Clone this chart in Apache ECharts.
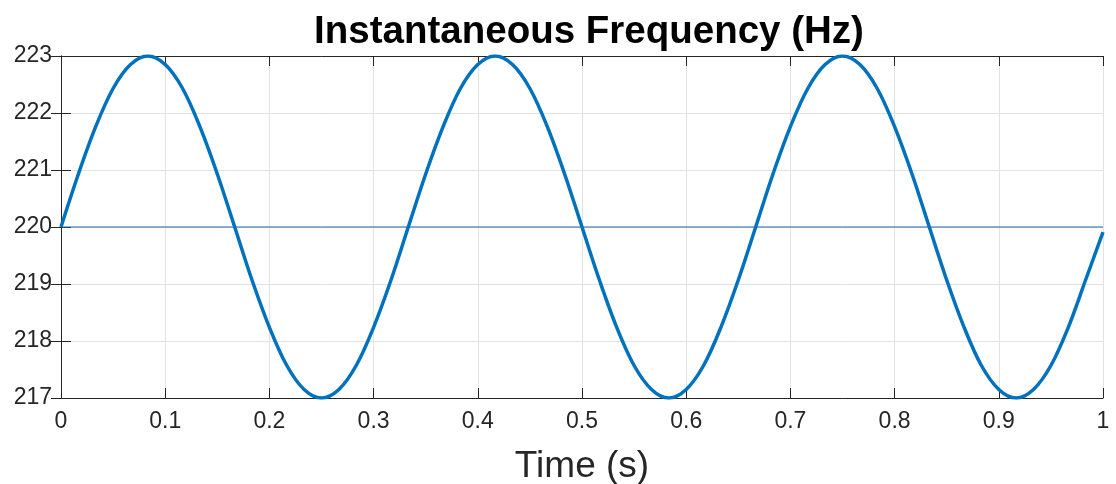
<!DOCTYPE html>
<html style="height: 100%">
<head>
    <meta charset="utf-8">
    <title>Instantaneous Frequency</title>
    <script type="text/javascript" src="https://cdn.jsdelivr.net/npm/echarts@6/dist/echarts.min.js"></script>
</head>
<body style="height: 100%; margin: 0; background: #fff">
    <div id="container" style="width: 1116px; height: 484px"></div>
    <script type="text/javascript">
        // time samples (s)
        var times = [
            0, 0.0167, 0.0333, 0.05, 0.0667, 0.0833, 0.1, 0.1167, 0.1333, 0.15,
            0.1667, 0.1833, 0.2, 0.2167, 0.2333, 0.25, 0.2667, 0.2833, 0.3, 0.3167,
            0.3333, 0.35, 0.3667, 0.3833, 0.4, 0.4167, 0.4333, 0.45, 0.4667, 0.4833,
            0.5, 0.5167, 0.5333, 0.55, 0.5667, 0.5833, 0.6, 0.6167, 0.6333, 0.65,
            0.6667, 0.6833, 0.7, 0.7167, 0.7333, 0.75, 0.7667, 0.7833, 0.8, 0.8167,
            0.8333, 0.85, 0.8667, 0.8833, 0.9, 0.9167, 0.9333, 0.95, 0.9667, 0.9833,
            1
        ];
        // instantaneous frequency (Hz)
        var freq = [
            220, 220.93, 221.76, 222.43, 222.85, 223, 222.85, 222.43, 221.76, 220.93,
            220, 219.07, 218.24, 217.57, 217.15, 217, 217.15, 217.57, 218.24, 219.07,
            220, 220.93, 221.76, 222.43, 222.85, 223, 222.85, 222.43, 221.76, 220.93,
            220, 219.07, 218.24, 217.57, 217.15, 217, 217.15, 217.57, 218.24, 219.07,
            220, 220.93, 221.76, 222.43, 222.85, 223, 222.85, 222.43, 221.76, 220.93,
            220, 219.07, 218.24, 217.57, 217.15, 217, 217.15, 217.57, 218.24, 219.07,
            219.91
        ];
        // centre frequency reference line
        var refTimes = [0, 1];
        var refFreq = [220, 220];

        var xTicks = ['0', '0.1', '0.2', '0.3', '0.4', '0.5', '0.6', '0.7', '0.8', '0.9', '1'];

        function pairs(xs, ys) {
            var out = [];
            for (var i = 0; i < xs.length; i++) out.push([xs[i], ys[i]]);
            return out;
        }

        var myChart = echarts.init(document.getElementById('container'));
        var axisColor = '#262626';
        var font = 'Liberation Sans, Arial, sans-serif';

        var option = {
            animation: false,
            title: {
                text: 'Instantaneous Frequency (Hz)',
                left: 584,
                textAlign: 'center',
                top: 8,
                textStyle: { fontFamily: font, fontSize: 38.5, fontWeight: 'bold', color: '#000' }
            },
            grid: { left: 61, right: 13, top: 56, bottom: 86, outerBoundsMode: 'none', containLabel: false },
            xAxis: [{
                type: 'value',
                min: 0, max: 1, interval: 0.1,
                name: 'Time (s)',
                nameLocation: 'middle',
                nameGap: 50,
                nameTextStyle: { fontFamily: font, fontSize: 37, color: axisColor },
                axisLine: { lineStyle: { color: axisColor, width: 1 } },
                axisTick: { inside: true, length: 10, lineStyle: { color: axisColor } },
                axisLabel: {
                    fontFamily: font, fontSize: 23, color: axisColor, margin: 12,
                    formatter: function (v) { return xTicks[Math.round(v * 10)]; }
                },
                splitLine: { show: true, lineStyle: { color: '#e2e2e2', width: 1 } }
            }, {
                type: 'value', position: 'top',
                min: 0, max: 1, interval: 0.1,
                axisLine: { show: true, lineStyle: { color: axisColor, width: 1 } },
                axisTick: { inside: true, length: 10, lineStyle: { color: axisColor } },
                axisLabel: { show: false },
                splitLine: { show: false }
            }],
            yAxis: [{
                type: 'value',
                min: 217, max: 223, interval: 1,
                axisLine: { show: true, lineStyle: { color: axisColor, width: 1 } },
                axisTick: { show: true, inside: true, length: 10, lineStyle: { color: axisColor } },
                axisLabel: { fontFamily: font, fontSize: 23, color: axisColor, margin: 9 },
                splitLine: { show: true, lineStyle: { color: '#e2e2e2', width: 1 } }
            }, {
                type: 'value', position: 'right',
                min: 217, max: 223, interval: 1,
                axisLine: { show: true, lineStyle: { color: axisColor, width: 1 } },
                axisTick: { show: true, inside: true, length: 10, lineStyle: { color: axisColor } },
                axisLabel: { show: false },
                splitLine: { show: false }
            }],
            series: [{
                name: 'reference',
                type: 'line',
                data: pairs(refTimes, refFreq),
                symbol: 'none',
                lineStyle: { color: '#1a64a8', width: 1 },
                z: 2
            }, {
                name: 'frequency',
                type: 'line',
                data: pairs(times, freq),
                smooth: 0.35,
                symbol: 'none',
                lineStyle: { color: '#0072bd', width: 3.5 },
                z: 3
            }]
        };
        myChart.setOption(option);
    </script>
</body>
</html>
